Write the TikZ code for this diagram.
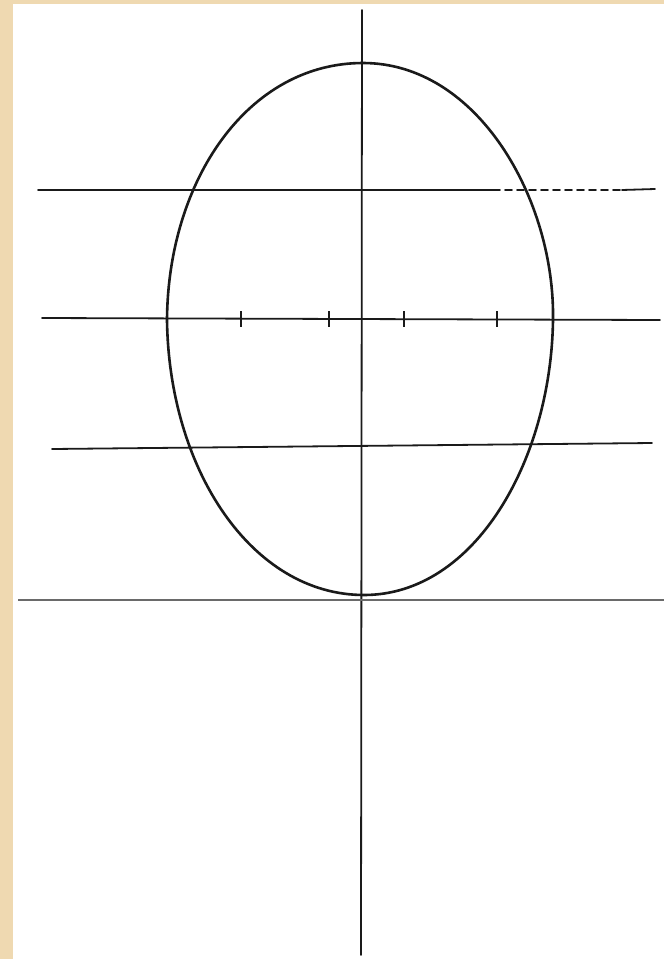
\documentclass[tikz,border=0pt]{standalone}
\usepackage{tikz}
\definecolor{papelfondo}{HTML}{EFD9B1}
\definecolor{trazo}{HTML}{1A1A1A}
\definecolor{trazoclaro}{HTML}{6A6A6A}

\begin{document}
\begin{tikzpicture}[
  x=1pt, y=-1pt,
  guia/.style={color=trazo, line width=1.8pt, line cap=round},
  guiaclara/.style={color=trazoclaro, line width=1.5pt},
  ovalo/.style={color=trazo, line width=2.6pt},
  marca/.style={color=trazo, line width=1.8pt}
]
  % fondo y hoja
  \fill[papelfondo] (0,0) rectangle (664,959);
  \fill[white] (13,4) rectangle (664,959);
  \useasboundingbox (0,0) rectangle (664,959);

  % puntos del ovalo
  \coordinate (arriba) at (363,63);
  \coordinate (derecha) at (553,320);
  \coordinate (abajo) at (364,595);
  \coordinate (izquierda) at (167,320);

  \draw[ovalo] (arriba) .. controls (478,63) and (555,200) .. (derecha)
    .. controls (551,460) and (475,595) .. (abajo)
    .. controls (252,595) and (169,470) .. (izquierda)
    .. controls (168,180) and (248,63) .. (arriba);

  % eje vertical
  \coordinate (ejesup) at (362,10);
  \coordinate (ejeinf) at (361,955);
  \draw[guia] (ejesup) -- (ejeinf);

  % linea superior (tramo discontinuo a la derecha)
  \coordinate (l1a) at (38,190);
  \coordinate (l1b) at (493,190);
  \coordinate (l1c) at (622,190);
  \coordinate (l1d) at (655,189);
  \draw[guia] (l1a) -- (l1b);
  \draw[guia, dash pattern=on 7pt off 5pt] (l1b) -- (l1c);
  \draw[guia] (l1c) -- (l1d);

  % linea de los ojos con marcas
  \coordinate (l2a) at (42,318);
  \coordinate (l2b) at (660,320);
  \draw[guia] (l2a) -- (l2b);
  \foreach \xm in {241,329,404,497}
    \draw[marca] (\xm,311) -- (\xm,327);

  % linea inferior
  \coordinate (l3a) at (52,449);
  \coordinate (l3b) at (652,443);
  \draw[guia] (l3a) -- (l3b);

  % linea de la barbilla
  \coordinate (l4a) at (18,600);
  \coordinate (l4b) at (664,600);
  \draw[guiaclara] (l4a) -- (l4b);
\end{tikzpicture}
\end{document}
